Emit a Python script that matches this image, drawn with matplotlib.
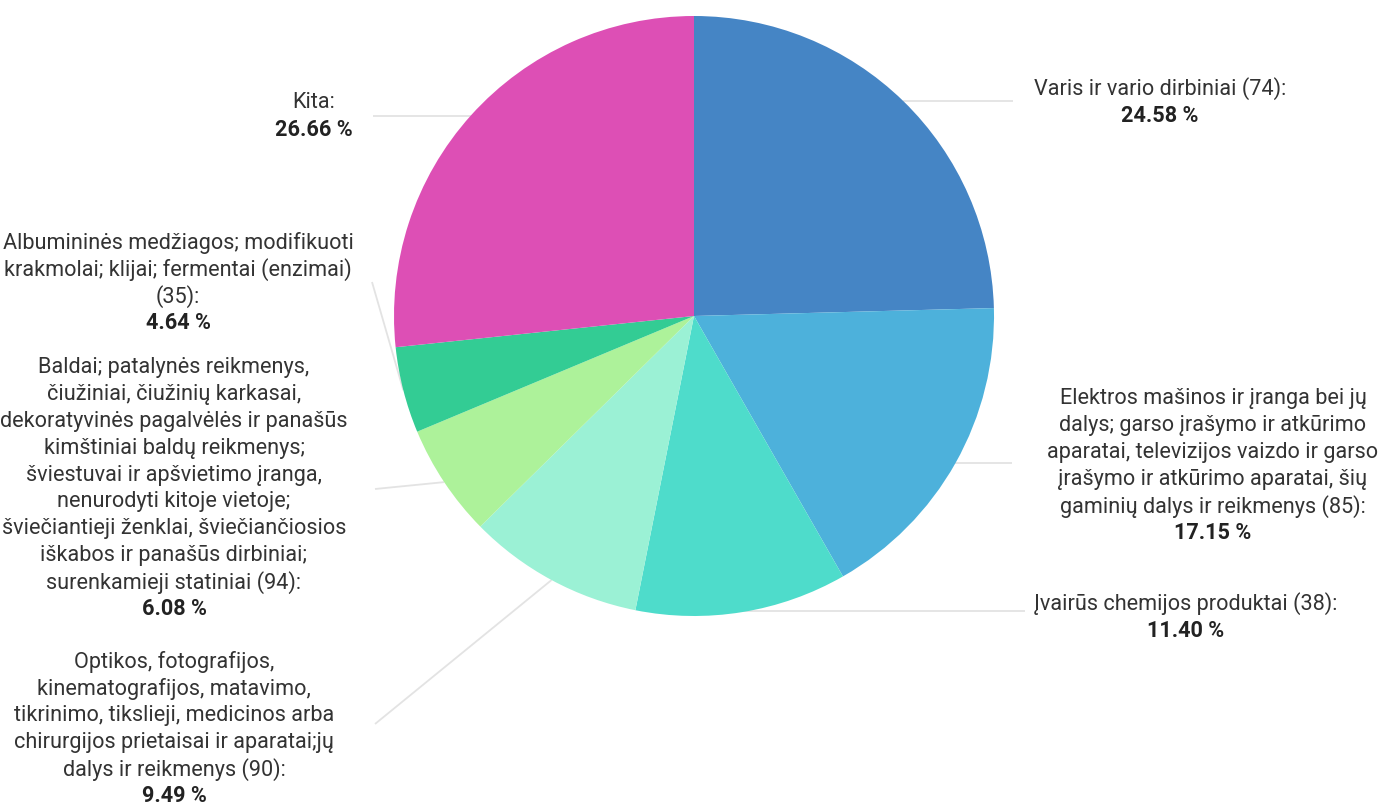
import matplotlib
matplotlib.use("Agg")
import matplotlib.pyplot as plt
import numpy as np

plt.rcParams['font.family'] = ['Roboto', 'DejaVu Sans']

# ---- data ----
categories = [
    "Varis ir vario dirbiniai",
    "Elektros mašinos ir įranga bei jų dalys; garso įrašymo ir atkūrimo aparatai, televizijos vaizdo ir garso įrašymo ir atkūrimo aparatai, šių gaminių dalys ir reikmenys",
    "Įvairūs chemijos produktai",
    "Optikos, fotografijos, kinematografijos, matavimo, tikrinimo, tikslieji, medicinos arba chirurgijos prietaisai ir aparatai;jų dalys ir reikmenys",
    "Baldai; patalynės reikmenys, čiužiniai, čiužinių karkasai, dekoratyvinės pagalvėlės ir panašūs kimštiniai baldų reikmenys; šviestuvai ir apšvietimo įranga, nenurodyti kitoje vietoje; šviečiantieji ženklai, šviečiančiosios iškabos ir panašūs dirbiniai; surenkamieji statiniai",
    "Albumininės medžiagos; modifikuoti krakmolai; klijai; fermentai (enzimai)",
    "Kita",
]
codes = ["74", "85", "38", "90", "94", "35", None]
values = [24.58, 17.15, 11.40, 9.49, 6.08, 4.64, 26.66]
colors = ["#4585c5", "#4db1db", "#4edccb", "#9bf1d5", "#adf29a", "#33cc94", "#dd4fb5"]

label_lines = [
    ["Varis ir vario dirbiniai (74):"],
    ["Elektros mašinos ir įranga bei jų", "dalys; garso įrašymo ir atkūrimo",
     "aparatai, televizijos vaizdo ir garso", "įrašymo ir atkūrimo aparatai, šių",
     "gaminių dalys ir reikmenys (85):"],
    ["Įvairūs chemijos produktai (38):"],
    ["Optikos, fotografijos,", "kinematografijos, matavimo,",
     "tikrinimo, tikslieji, medicinos arba", "chirurgijos prietaisai ir aparatai;jų",
     "dalys ir reikmenys (90):"],
    ["Baldai; patalynės reikmenys,", "čiužiniai, čiužinių karkasai,",
     "dekoratyvinės pagalvėlės ir panašūs", "kimštiniai baldų reikmenys;",
     "šviestuvai ir apšvietimo įranga,", "nenurodyti kitoje vietoje;",
     "šviečiantieji ženklai, šviečiančiosios", "iškabos ir panašūs dirbiniai;",
     "surenkamieji statiniai (94):"],
    ["Albumininės medžiagos; modifikuoti", "krakmolai; klijai; fermentai (enzimai)",
     "(35):"],
    ["Kita:"],
]

# ---- layout (pixels) ----
W, H = 1379, 804
cx, cy, R = 694, 317, 300
label_center_x = [1160, 1213, 1186, 174, 174, 178, 314]
label_top_y = [89, 399, 604, 662, 368, 243, 103]
line_step = 26.8
anchors = [(1013, 102), (1012, 464), (1025, 612), (375, 725), (375, 490), (372, 283), (373, 117)]
horizontal = [True, True, True, False, False, False, True]

fig = plt.figure(figsize=(W / 100, H / 100), dpi=100)
fig.patch.set_facecolor("white")

# overlay axes in pixel coordinates for leader lines
ov = fig.add_axes([0, 0, 1, 1])
ov.set_xlim(0, W)
ov.set_ylim(H, 0)
ov.axis("off")
ov.set_zorder(0)

# pie axes
pax = fig.add_axes([(cx - R) / W, (H - cy - R) / H, 2 * R / W, 2 * R / H])
pax.set_zorder(1)
pax.patch.set_alpha(0)
pax.pie(values, colors=colors, startangle=90, counterclock=False, radius=1,
        wedgeprops=dict(linewidth=0))
pax.set_xlim(-1, 1)
pax.set_ylim(-1, 1)
pax.set_aspect("auto")
pax.axis("off")

# leader lines
cum = np.cumsum([0] + values[:-1])
total = sum(values)
for i, v in enumerate(values):
    mid = (cum[i] + v / 2) / total * 360.0
    ex = cx + R * np.sin(np.radians(mid))
    ey = cy - R * np.cos(np.radians(mid))
    ax_, ay_ = anchors[i]
    if horizontal[i]:
        ov.plot([ax_, ex], [ay_, ay_], color="#e3e3e3", lw=1.3, solid_capstyle="butt")
    else:
        ov.plot([ax_, ex], [ay_, ey], color="#e3e3e3", lw=1.3, solid_capstyle="butt")

# labels
fs = 15.6
for i, lines in enumerate(label_lines):
    x = label_center_x[i]
    y = label_top_y[i]
    for ln in lines:
        fig.text(x / W, 1 - y / H, ln, ha="center", va="center", fontsize=fs,
                 color="#333333")
        y += line_step
    fig.text(x / W, 1 - y / H, f"{values[i]:.2f} %", ha="center", va="center",
             fontsize=fs, fontweight="bold", color="#222222")

fig.savefig("out.png", dpi=100, facecolor="white")
